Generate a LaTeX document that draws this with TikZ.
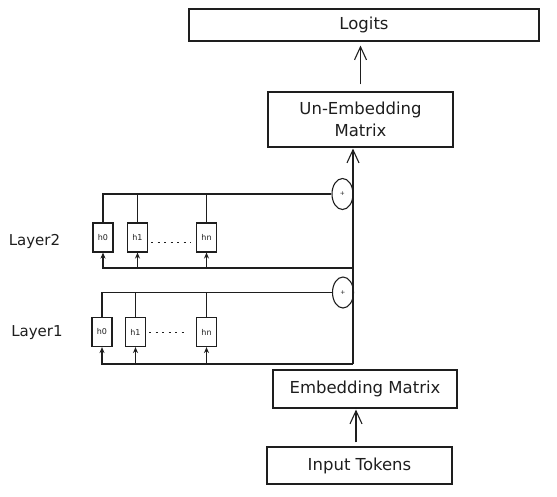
\documentclass[tikz,border=0pt]{standalone}
\usepackage{fontspec}
\setmainfont{DejaVu Sans}
\usetikzlibrary{arrows.meta,shapes.geometric}
\definecolor{ink}{HTML}{1E1E1E}
\begin{document}
\begin{tikzpicture}[x=1pt,y=-1pt,line width=1.1pt,draw=ink,text=ink,
  box/.style={draw,rectangle,inner sep=0pt,align=center,font=\fontsize{16.5}{22}\selectfont},
  hbox/.style={draw,rectangle,minimum width=20pt,minimum height=29pt,inner sep=0pt,font=\fontsize{8}{9}\selectfont},
  plus/.style={draw,ellipse,minimum width=21pt,minimum height=31pt,inner sep=0pt,font=\fontsize{6}{7}\selectfont},
  layerlab/.style={font=\fontsize{15}{17}\selectfont},
  bigarrow/.style={-{Straight Barb[length=13pt,width=12pt]}},
  smallarrow/.style={-{Stealth[length=6pt,width=5pt]}},
  dotline/.style={line width=0.8pt,dash pattern=on 2pt off 4.5pt}]
\useasboundingbox (0,0) rectangle (557,496);

% main boxes
\node[box,minimum width=350pt,minimum height=32pt] (logits) at (364,25) {Logits};
\node[box,minimum width=185pt,minimum height=55pt] (unemb) at (360.5,119.5) {Un-Embedding\\Matrix};
\node[box,minimum width=184pt,minimum height=38pt] (emb) at (365,389) {Embedding Matrix};
\node[box,minimum width=185pt,minimum height=37pt] (inp) at (359.5,465.5) {Input Tokens};

% arrows between main boxes
\draw[bigarrow,shorten <=7pt,shorten >=4pt] (unemb.north) -- (unemb.north |- logits.south);
\draw[bigarrow,shorten <=4pt,shorten >=1pt] ([xshift=-3.5pt]inp.north) -- ([xshift=-3.5pt]inp.north |- emb.south);

% residual stream
\coordinate (j1) at (353,364);
\coordinate (j2) at (353,268);
\draw[bigarrow,shorten >=1pt] (j1) -- (j1 |- unemb.south);

% layer labels
\node[layerlab] (l2) at (34.5,241) {Layer2};
\node[layerlab] (l1) at (37,333) {Layer1};

% layer 2
\node[hbox] (a2) at (103,237.5) {h0};
\node[hbox] (b2) at (137.5,237.5) {h1};
\node[hbox] (n2) at (206.5,237.5) {hn};
\node[plus] (c2) at (342.5,194) {+};
\draw (a2.north) |- (c2.west);
\draw (b2.north) -- (b2.north |- c2.west);
\draw (n2.north) -- (n2.north |- c2.west);
\draw[smallarrow] (j2) -| (a2.south);
\draw[smallarrow] (b2.south |- j2) -- (b2.south);
\draw[smallarrow] (n2.south |- j2) -- (n2.south);
\draw[dotline] ([xshift=3pt,yshift=-4.5pt]b2.east) -- ([xshift=-5pt,yshift=-4.5pt]n2.west);

% layer 1
\node[hbox] (a1) at (102,332) {h0};
\node[hbox] (b1) at (135.5,332) {h1};
\node[hbox] (n1) at (206.5,332) {hn};
\node[plus] (c1) at (343,292.5) {+};
\draw (a1.north) |- (c1.west);
\draw (b1.north) -- (b1.north |- c1.west);
\draw (n1.north) -- (n1.north |- c1.west);
\draw[smallarrow] (j1) -| (a1.south);
\draw[smallarrow] (b1.south |- j1) -- (b1.south);
\draw[smallarrow] (n1.south |- j1) -- (n1.south);
\draw[dotline] ([xshift=3pt]b1.east) -- ([xshift=-8pt]n1.west);
\end{tikzpicture}
\end{document}
